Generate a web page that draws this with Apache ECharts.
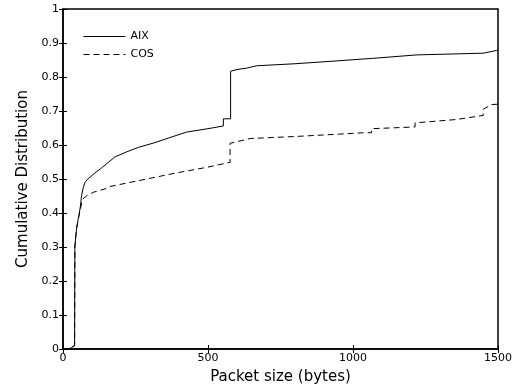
<!DOCTYPE html>
<html>
<head>
<meta charset="utf-8">
<script src="https://cdn.jsdelivr.net/npm/echarts@6/dist/echarts.min.js"></script>
<style>
  html, body { margin: 0; padding: 0; background: #fff; }
  #chart { width: 518px; height: 390px; }
</style>
</head>
<body>
<div id="chart"></div>
<script>
// packet size (bytes) vs cumulative distribution
const seriesNames = ['AIX', 'COS']
const aixData = [
  [0, 0], [20, 0], [30, 0.005], [40, 0.01], [41, 0.30], [44, 0.33], [47, 0.355],
  [52, 0.38], [55, 0.393], [60, 0.42], [64, 0.451], [70, 0.475], [76, 0.49],
  [85, 0.50], [93, 0.505], [110, 0.518], [128, 0.529], [162, 0.553], [179, 0.565],
  [220, 0.58], [260, 0.593], [317, 0.607], [369, 0.622], [426, 0.638], [500, 0.648],
  [553, 0.656], [553, 0.677], [578, 0.677], [578, 0.817], [600, 0.822], [633, 0.826],
  [668, 0.833], [800, 0.839], [800, 0.843], [921, 0.846], [1070, 0.855],
  [1220, 0.865], [1449, 0.870], [1495, 0.878], [1500, 0.88]
]
const cosData = [
  [0, 0], [20, 0], [30, 0.005], [40, 0.01], [41, 0.30], [44, 0.33], [47, 0.355],
  [52, 0.38], [59, 0.407], [67, 0.44], [82, 0.451], [105, 0.461], [145, 0.471],
  [162, 0.478], [260, 0.495], [386, 0.517], [500, 0.535], [576, 0.549], [576, 0.605],
  [645, 0.619], [800, 0.625], [932, 0.631], [1036, 0.636], [1064, 0.636],
  [1064, 0.648], [1214, 0.653], [1214, 0.665], [1357, 0.675], [1449, 0.687],
  [1449, 0.705], [1478, 0.719], [1500, 0.72]
]
const xTicks = [0, 500, 1000, 1500]
const yTicks = [0, 0.1, 0.2, 0.3, 0.4, 0.5, 0.6, 0.7, 0.8, 0.9, 1]

const font = 'DejaVu Sans, sans-serif'
const tickStyle = { show: true, inside: true, length: 4, lineStyle: { color: '#000', width: 1 } }

const chart = echarts.init(document.getElementById('chart'))
chart.setOption({
  animation: false,
  textStyle: { fontFamily: font, color: '#000' },
  grid: {
    left: 63, right: 20, top: 9, bottom: 39,
    show: true, borderColor: '#000', borderWidth: 1.5, backgroundColor: 'transparent'
  },
  legend: {
    orient: 'vertical',
    left: 83, top: 31, padding: 0,
    itemWidth: 42, itemHeight: 12, itemGap: 7,
    itemStyle: { opacity: 0 },
    lineStyle: { width: 1 },
    data: seriesNames,
    textStyle: { fontFamily: font, fontSize: 11, color: '#000', padding: [0, 0, 0, 0] }
  },
  xAxis: [{
    type: 'value',
    min: 0, max: 1500, interval: 500,
    name: 'Packet size (bytes)',
    nameLocation: 'middle', nameGap: 21,
    nameTextStyle: { fontFamily: font, fontSize: 15, color: '#000' },
    axisLine: { show: true, onZero: false, lineStyle: { color: '#000', width: 1.5 } },
    axisTick: tickStyle,
    axisLabel: { fontFamily: font, fontSize: 11, color: '#000', margin: 4,
      formatter: v => xTicks.includes(v) ? String(v) : '' },
    splitLine: { show: false }
  }, {
    type: 'value', position: 'top',
    min: 0, max: 1500, interval: 500,
    axisLine: { show: false }, axisTick: tickStyle,
    axisLabel: { show: false }, splitLine: { show: false }
  }],
  yAxis: [{
    type: 'value',
    min: 0, max: 1, interval: 0.1,
    name: 'Cumulative Distribution',
    nameLocation: 'middle', nameGap: 32,
    nameTextStyle: { fontFamily: font, fontSize: 15, color: '#000' },
    axisLine: { show: true, onZero: false, lineStyle: { color: '#000', width: 1.5 } },
    axisTick: tickStyle,
    axisLabel: { fontFamily: font, fontSize: 11, color: '#000', margin: 4,
      formatter: v => {
        const t = yTicks.find(y => Math.abs(y - v) < 1e-9)
        return t === undefined ? '' : String(t)
      } },
    splitLine: { show: false }
  }, {
    type: 'value', position: 'right',
    min: 0, max: 1, interval: 0.1,
    axisLine: { show: false }, axisTick: tickStyle,
    axisLabel: { show: false }, splitLine: { show: false }
  }],
  series: [{
    name: seriesNames[0],
    type: 'line',
    data: aixData,
    showSymbol: false, symbol: 'none',
    itemStyle: { color: '#000' },
    lineStyle: { color: '#000', width: 1, type: 'solid' }
  }, {
    name: seriesNames[1],
    type: 'line',
    data: cosData,
    showSymbol: false, symbol: 'none',
    itemStyle: { color: '#000' },
    lineStyle: { color: '#000', width: 1, type: [6, 4] }
  }]
})
</script>
</body>
</html>
